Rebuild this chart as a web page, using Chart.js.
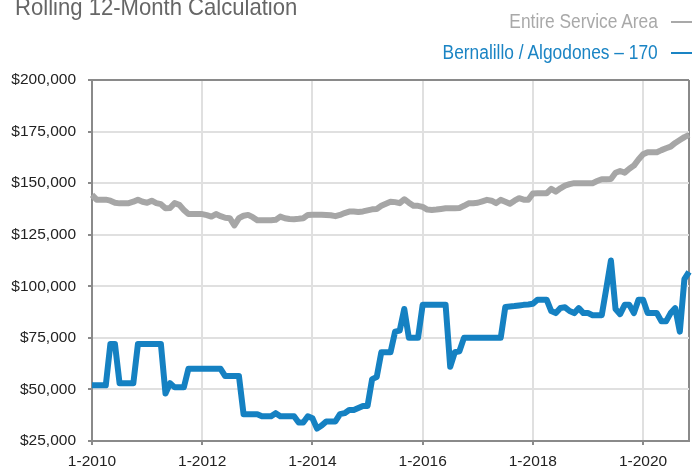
<!DOCTYPE html>
<html lang="en">
<head>
  <meta charset="UTF-8" />
  <title>Rolling 12-Month Calculation</title>
  <script src="https://cdn.jsdelivr.net/npm/chart.js"></script>
  <style>
    body { margin: 0; background: #fff; }
    #wrap { position: relative; width: 700px; height: 468px; overflow: hidden; font-family: "Liberation Sans", Arial, Helvetica, sans-serif; }
    #chart { position: absolute; left: 0; top: 0; }
    .title { position: absolute; left: 15px; top: -4.6px; font-size: 24px; line-height: 24px; color: #666; white-space: nowrap; transform: scaleX(0.92); transform-origin: left center; }
    .leg { position: absolute; right: 42px; font-size: 19.5px; line-height: 20px; white-space: nowrap; transform: scaleX(0.89); transform-origin: right center; }
    .dash { position: absolute; left: 671px; width: 21px; height: 2px; }
  </style>
</head>
<body>
  <div id="wrap">
    <canvas id="chart" width="700" height="468"></canvas>
    <div class="title">Rolling 12-Month Calculation</div>
    <div class="leg" style="top: 10.5px; color: #a9a9a9;">Entire Service Area</div>
    <div class="dash" style="top: 21px; background: #a9a9a9;"></div>
    <div class="leg" style="top: 41.5px; color: #1a84c4;">Bernalillo / Algodones – 170</div>
    <div class="dash" style="top: 51.5px; background: #1a84c4;"></div>
  </div>

  <script>
    // months 1-2010 .. 11-2020
    const months = [];
    for (let y = 2010; y <= 2020; y++) {
      for (let m = 1; m <= 12; m++) {
        if (y === 2020 && m > 11) break;
        months.push(m + "-" + y);
      }
    }

    // Entire Service Area (one row per year)
    const serviceArea = [
      144300, 142000, 142000, 142000, 141500, 140500, 140200, 140200, 140300, 141000, 142000, 141000,
      140500, 141500, 140300, 139800, 137800, 138000, 140300, 139500, 137000, 135000, 135000, 135000,
      135000, 134500, 133800, 135000, 134000, 133200, 133000, 129500, 133000, 134200, 134600, 133500,
      132000, 132000, 132000, 132000, 132200, 133800, 133000, 132600, 132500, 132700, 133000, 134600,
      134700, 134700, 134700, 134600, 134400, 134000, 134600, 135500, 136200, 136200, 136000, 136300,
      136800, 137300, 137500, 139000, 140000, 141000, 140800, 140300, 142200, 140500, 139000, 139000,
      138500, 137200, 137000, 137200, 137500, 137800, 137800, 137800, 138000, 139000, 140200, 140300,
      140500, 141200, 141900, 141500, 140300, 141900, 141000, 140000, 141500, 142700, 142000, 141900,
      145000, 145100, 145100, 145100, 147200, 145900, 147500, 148800, 149500, 150000, 150000, 150000,
      150000, 150000, 151000, 151900, 151900, 152000, 155000, 155900, 155100, 157000, 158500, 161500,
      164000, 165000, 165000, 165000, 166000, 166900, 167700, 169500, 170900, 172300, 173400
    ];

    // Bernalillo / Algodones - 170
    const bernalillo = [
      52000, 52000, 52000, 52000, 72000, 72000, 53000, 53000, 53000, 53000, 72000, 72000,
      72000, 72000, 72000, 72000, 48000, 53000, 51000, 51000, 51000, 60000, 60000, 60000,
      60000, 60000, 60000, 60000, 60000, 56500, 56500, 56500, 56500, 38000, 38000, 38000,
      38000, 37000, 37000, 37000, 38500, 37000, 37000, 37000, 37000, 34000, 34000, 37000,
      36000, 31000, 32500, 34500, 34500, 34500, 38000, 38500, 40000, 40000, 41000, 42000,
      42000, 55000, 56000, 68000, 68000, 68000, 78000, 78500, 89000, 75000, 75000, 75000,
      91000, 91000, 91000, 91000, 91000, 91000, 61000, 68000, 68500, 75000, 75000, 75000,
      75000, 75000, 75000, 75000, 75000, 75000, 90000, 90200, 90400, 90700, 91000, 91200,
      91500, 93500, 93500, 93500, 88000, 87000, 89500, 89800, 88000, 87000, 89400, 87000,
      87000, 86000, 86000, 86000, 99000, 112500, 89000, 86500, 91000, 91000, 87000, 93500,
      93500, 87000, 87000, 87000, 83000, 83000, 87000, 89400, 78000, 103500, 107000
    ];

    const yMin = 25000;
    const yMax = 200000;
    const yStep = 25000;
    const labelEvery = 24;

    const tickFont = { family: "'Liberation Sans', Arial, Helvetica, sans-serif", size: 15.5 };
    const axisGray = "#8a8a8a";
    const gridGray = "#e0e0e0";

    const ctx = document.getElementById("chart").getContext("2d");

    new Chart(ctx, {
      type: "line",
      data: {
        labels: months,
        datasets: [
          {
            label: "Entire Service Area",
            data: serviceArea,
            borderColor: "#a6a6a6",
            borderWidth: 6,
            pointRadius: 0,
            tension: 0,
            borderJoinStyle: "round"
          },
          {
            label: "Bernalillo / Algodones – 170",
            data: bernalillo,
            borderColor: "#1581c2",
            borderWidth: 6,
            pointRadius: 0,
            tension: 0,
            borderJoinStyle: "round"
          }
        ]
      },
      options: {
        responsive: false,
        animation: false,
        layout: { padding: { top: 80, right: 11, left: 0, bottom: 0 } },
        plugins: {
          legend: { display: false },
          tooltip: { enabled: false }
        },
        scales: {
          x: {
            type: "category",
            offset: false,
            border: { color: axisGray, width: 2 },
            grid: {
              lineWidth: 2,
              tickLength: 4,
              color: c => c.index % labelEvery === 0 ? gridGray : (c.index === months.length - 1 ? axisGray : "rgba(0,0,0,0)"),
              tickColor: c => c.index % labelEvery === 0 ? axisGray : "rgba(0,0,0,0)"
            },
            ticks: {
              autoSkip: false,
              maxRotation: 0,
              minRotation: 0,
              padding: 7,
              color: "#222",
              font: tickFont,
              callback: function (v, i) {
                return i % labelEvery === 0 ? this.getLabelForValue(v) : "";
              }
            },
            afterFit: scale => { scale.height = 27; }
          },
          y: {
            min: yMin,
            max: yMax,
            border: { color: axisGray, width: 2 },
            grid: {
              lineWidth: 2,
              tickLength: 4,
              color: c => c.tick && c.tick.value === yMax ? axisGray : gridGray,
              tickColor: axisGray
            },
            ticks: {
              stepSize: yStep,
              padding: 12,
              color: "#222",
              font: tickFont,
              callback: v => "$" + v.toLocaleString("en-US")
            },
            afterFit: scale => { scale.width = 92; }
          }
        }
      }
    });
  </script>
</body>
</html>
